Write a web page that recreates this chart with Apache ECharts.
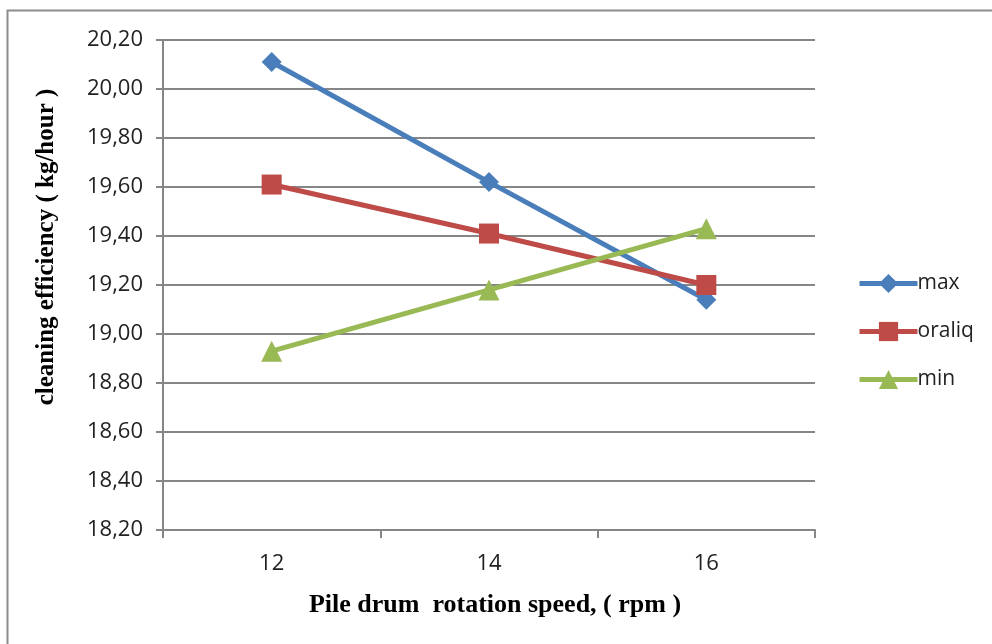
<!DOCTYPE html>
<html><head><meta charset="utf-8">
<script src="https://cdn.jsdelivr.net/npm/echarts@6/dist/echarts.min.js"></script>
<style>html,body{margin:0;padding:0;background:#fff}#c{width:992px;height:644px}</style>
</head><body><div id="c"></div>
<script>
const categories = ['12', '14', '16'];
const maxValues = [20.11, 19.62, 19.14];
const oraliqValues = [19.61, 19.41, 19.20];
const minValues = [18.93, 19.18, 19.43];
const seriesNames = ['max', 'oraliq', 'min'];

const chart = echarts.init(document.getElementById('c'));
const labelFont = {fontFamily: 'Open Sans', fontSize: 22, color: '#222'};
chart.setOption({
  animation: false,
  backgroundColor: '#fff',
  graphic: [{type: 'rect', shape: {x: 7.5, y: 10.5, width: 1000, height: 700}, style: {fill: 'none', stroke: '#8c8c8c', lineWidth: 2}}],
  grid: {left: 163, right: 177, top: 40, bottom: 114},
  legend: {
    orient: 'vertical', left: 852, top: 268, itemGap: 27, itemWidth: 58, itemHeight: 24,
    lineStyle: {width: 5},
    textStyle: {fontFamily: 'Open Sans', fontSize: 21, color: '#222', padding: [0,0,0,-5]},
    data: seriesNames
  },
  xAxis: {
    type: 'category', data: categories, boundaryGap: true,
    axisLine: {lineStyle: {color: '#868686', width: 2}},
    axisTick: {show: true, length: 8, lineStyle: {color: '#868686', width: 2}},
    axisLabel: Object.assign({margin: 23}, labelFont),
    name: 'Pile drum  rotation speed, ( rpm )', nameLocation: 'middle', nameGap: 62,
    nameTextStyle: {fontFamily: 'Liberation Serif', fontWeight: 'bold', fontSize: 26, color: '#000', padding: [0,0,0,12]}
  },
  yAxis: {
    type: 'value', min: 18.2, max: 20.2, interval: 0.2,
    axisLine: {show: true, lineStyle: {color: '#868686', width: 2}},
    axisTick: {show: true, length: 7, lineStyle: {color: '#868686', width: 2}},
    splitLine: {lineStyle: {color: '#868686', width: 2}},
    axisLabel: Object.assign({margin: 20, formatter: v => v.toFixed(2).replace('.', ',')}, labelFont),
    name: 'cleaning efficiency ( kg/hour )', nameLocation: 'middle', nameGap: 104,
    nameTextStyle: {fontFamily: 'Liberation Serif', fontWeight: 'bold', fontSize: 25, color: '#000', padding: [0,0,0,76]}
  },
  series: [
    {name: seriesNames[0], type: 'line', data: maxValues, symbol: 'diamond', symbolSize: 20,
     itemStyle: {color: '#4a7ebb'}, lineStyle: {width: 5, color: '#4a7ebb'}},
    {name: seriesNames[1], type: 'line', data: oraliqValues, symbol: 'rect', symbolSize: 20,
     itemStyle: {color: '#be4b48'}, lineStyle: {width: 5, color: '#be4b48'}},
    {name: seriesNames[2], type: 'line', data: minValues, symbol: 'triangle', symbolSize: 21,
     itemStyle: {color: '#98b954'}, lineStyle: {width: 5, color: '#98b954'}}
  ]
});
</script></body></html>
